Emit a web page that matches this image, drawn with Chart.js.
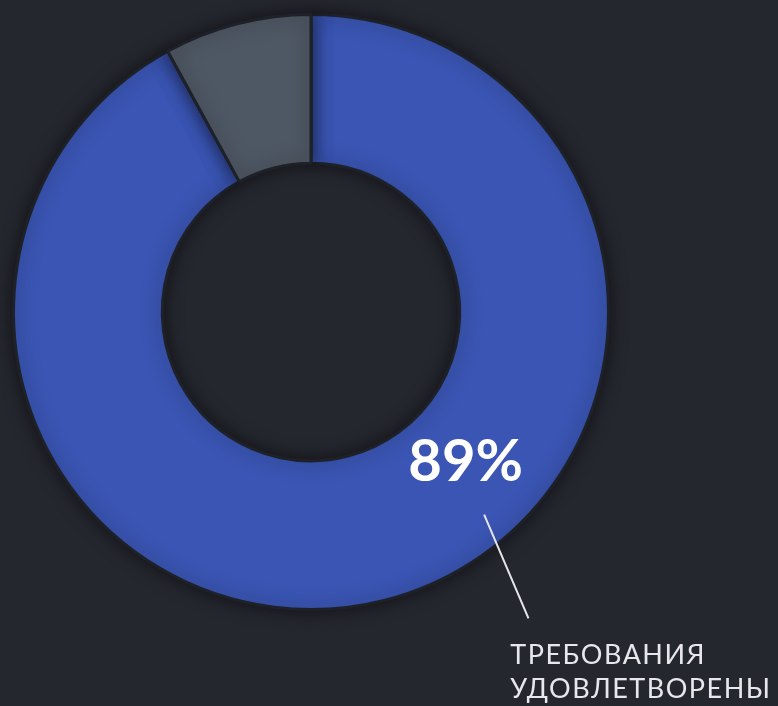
<!DOCTYPE html>
<html>
<head>
<meta charset="utf-8">
<script src="https://cdn.jsdelivr.net/npm/chart.js@4.4.1/dist/chart.umd.min.js"></script>
<style>
  html, body { margin:0; padding:0; background:#25272f; }
  #wrap { width:778px; height:706px; }
</style>
</head>
<body>
<div id="wrap"><canvas id="donut"></canvas></div>
<script>
// values
const categories = ['Требования удовлетворены', 'Прочее'];
const shares     = [92, 8];
const colors     = ['#3a55b3', '#4e5864'];
const bigLabel   = '89%';
const noteLines  = ['ТРЕБОВАНИЯ', 'УДОВЛЕТВОРЕНЫ'];

// soft dark shadow under the ring
const shadowPlugin = {
  id: 'ringShadow',
  beforeDatasetDraw(chart) {
    const ctx = chart.ctx;
    ctx.save();
    ctx.shadowColor = 'rgba(0,0,0,0.55)';
    ctx.shadowBlur = 18;
  },
  afterDatasetDraw(chart) {
    chart.ctx.restore();
  }
};

// percentage, leader line and caption, placed relative to the ring
const calloutPlugin = {
  id: 'callout',
  afterDraw(chart) {
    const arc = chart.getDatasetMeta(0).data[0];
    const { x, y, outerRadius: R } = arc.getProps(['x','y','outerRadius'], true);
    const ctx = chart.ctx;
    ctx.save();

    ctx.fillStyle = '#ffffff';
    ctx.font = 'bold 58px Lato';
    ctx.textAlign = 'center';
    ctx.textBaseline = 'middle';
    ctx.fillText(bigLabel, x + R * 0.52, y + R * 0.505);

    ctx.strokeStyle = '#e6e6ea';
    ctx.lineWidth = 2;
    ctx.beginPath();
    ctx.moveTo(x + R * 0.582, y + R * 0.681);
    ctx.lineTo(x + R * 0.731, y + R * 1.03);
    ctx.stroke();

    ctx.fillStyle = '#e8e8ec';
    ctx.font = '27px Lato';
    ctx.textAlign = 'left';
    ctx.textBaseline = 'alphabetic';
    ctx.letterSpacing = '1.5px';
    ctx.fillText(noteLines[0], x + R * 0.67, y + R * 1.183);
    ctx.fillText(noteLines[1], x + R * 0.67, y + R * 1.299);
    ctx.restore();
  }
};

new Chart(document.getElementById('donut'), {
  type: 'doughnut',
  data: {
    labels: categories,
    datasets: [{
      data: shares,
      backgroundColor: colors,
      borderColor: '#1f2129',
      borderWidth: 3,
      hoverOffset: 0
    }]
  },
  options: {
    responsive: true,
    maintainAspectRatio: false,
    animation: false,
    cutout: '50%',
    layout: { padding: { left: 12, top: 13, right: 168, bottom: 95 } },
    plugins: { legend: { display: false }, tooltip: { enabled: false } }
  },
  plugins: [shadowPlugin, calloutPlugin]
});
</script>
</body>
</html>
